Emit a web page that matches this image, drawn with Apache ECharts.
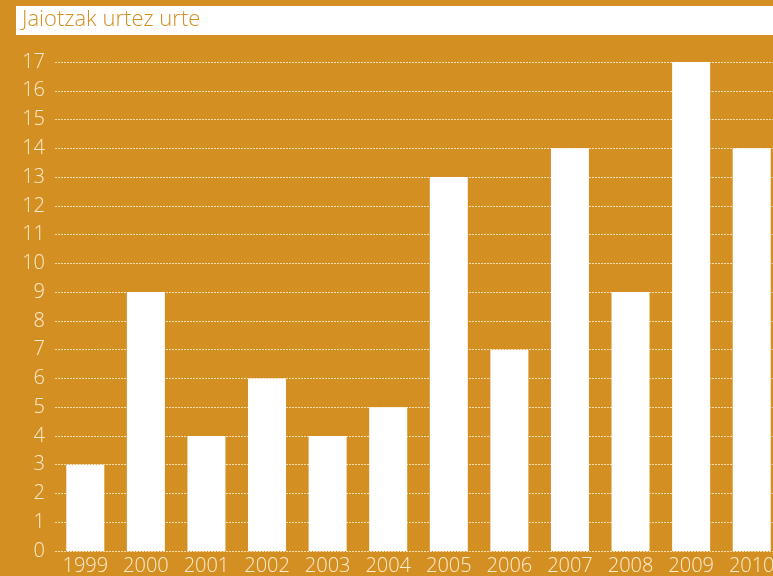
<!DOCTYPE html>
<html><head><meta charset="utf-8">
<script src="https://cdn.jsdelivr.net/npm/echarts@6/dist/echarts.min.js"></script>
<style>html,body{margin:0;padding:0;background:#D48F22;overflow:hidden;}#c{width:790px;height:576px;}</style>
</head><body><div id="c"></div>
<script>
const titleText = 'Jaiotzak urtez urte';
const categories = ['1999','2000','2001','2002','2003','2004','2005','2006','2007','2008','2009','2010'];
const values = [3,9,4,6,4,5,13,7,14,9,17,14];
const chart = echarts.init(document.getElementById('c'));
chart.setOption({
  backgroundColor:'#D48F22',
  animation:false,
  graphic:[
    {type:'rect', shape:{x:16,y:6,width:780,height:29}, style:{fill:'#ffffff'}},
    {type:'text', left:22, top:9, style:{text:titleText, fill:'#D48F22', font:'300 22px "Open Sans"'}}
  ],
  grid:{left:55, top:62, width:727, height:490},
  xAxis:{type:'category', data:categories,
    axisLine:{show:false}, axisTick:{show:false},
    axisLabel:{color:'#FBEBD0', fontSize:20, fontFamily:'Open Sans', fontWeight:300, margin:5}},
  yAxis:{type:'value', min:0, max:17, interval:1,
    axisLine:{show:false}, axisTick:{show:false},
    splitLine:{lineStyle:{color:'#F6DDB0', type:[2,1], width:1}},
    axisLabel:{color:'#FBEBD0', fontSize:20, fontFamily:'Open Sans', fontWeight:300, margin:10}},
  series:[{type:'bar', data:values, barWidth:38, itemStyle:{color:'#ffffff'}, silent:true}]
});
</script></body></html>
